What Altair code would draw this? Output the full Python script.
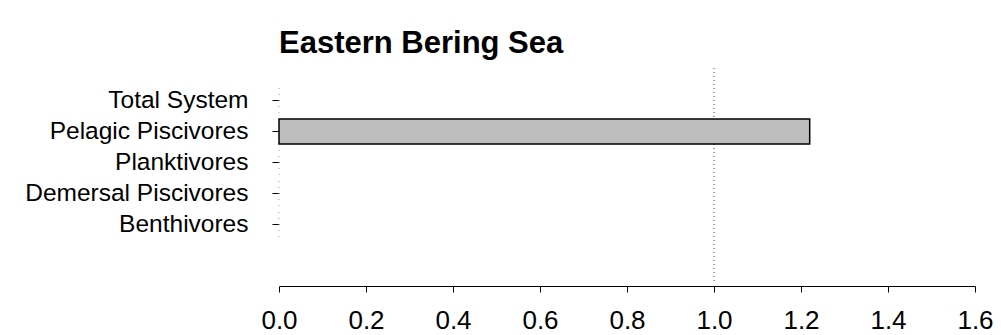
import json
import altair as alt
import pandas as pd

categories = ["Total System", "Pelagic Piscivores", "Planktivores", "Demersal Piscivores", "Benthivores"]
values = [0.0, 1.22, 0.0, 0.0, 0.0]
x_ticks = [0.0, 0.2, 0.4, 0.6, 0.8, 1.0, 1.2, 1.4, 1.6]
ref_value = 1.0

df = pd.DataFrame({"group": categories, "value": values, "idx": list(range(len(categories)))})

FONT = "Liberation Sans"

label_expr = json.dumps(categories) + "[datum.value]"

yscale = alt.Scale(domain=[-1.048, 5.855], reverse=True, nice=False, zero=False)
xscale = alt.Scale(domain=[0, 1.6], nice=False, zero=True)

base = alt.Chart(df).transform_calculate(
    y_lo="datum.idx - 0.4", y_hi="datum.idx + 0.4"
)

bars = base.transform_filter("datum.value > 0").mark_bar(
    fill="#bebebe", stroke="black", strokeWidth=1.5
).encode(
    x=alt.X("value:Q", scale=xscale,
            axis=alt.Axis(values=x_ticks, format=".1f", title=None, grid=False,
                          domainColor="black", domainWidth=1, tickColor="black",
                          tickSize=6, tickWidth=1, labelFontSize=26, labelFont=FONT,
                          labelColor="black", labelPadding=15, offset=4,
                          labelFlush=False, labelOverlap=False, labelLimit=0)),
    x2=alt.datum(0),
    y=alt.Y("y_lo:Q", scale=yscale,
            axis=alt.Axis(title=None, domain=False, grid=False, values=[0, 1, 2, 3, 4],
                          labelExpr=label_expr, tickColor="black", tickSize=7,
                          tickWidth=1, labelFontSize=24.5, labelFont=FONT,
                          labelColor="black", labelPadding=24, offset=0,
                          labelOverlap=False, labelFlush=False, labelLimit=0)),
    y2="y_hi:Q",
)

zeros = base.transform_filter("datum.value == 0").mark_rule(
    stroke="#999999", strokeWidth=1, strokeDash=[1, 5]
).encode(
    x=alt.X("value:Q", scale=xscale),
    y=alt.Y("y_lo:Q", scale=yscale),
    y2="y_hi:Q",
)

refline = alt.Chart(pd.DataFrame({"ref": [ref_value]})).mark_rule(
    color="#444444", strokeWidth=1, strokeDash=[1, 3]
).encode(x=alt.X("ref:Q", scale=xscale))

chart = alt.layer(zeros, refline, bars).properties(
    width=696, height=214,
    background="white",
    title=alt.TitleParams("Eastern Bering Sea", anchor="start", frame="group",
                          font=FONT, fontSize=31, fontWeight="bold", color="black",
                          baseline="alphabetic", offset=-16),
    autosize=alt.AutoSizeParams(type="none"),
    padding={"left": 271, "top": 60, "right": 18, "bottom": 53},
).configure_view(stroke=None).configure_axis(grid=False)

chart.save("out.html", embed_options={"renderer": "svg", "actions": False})
